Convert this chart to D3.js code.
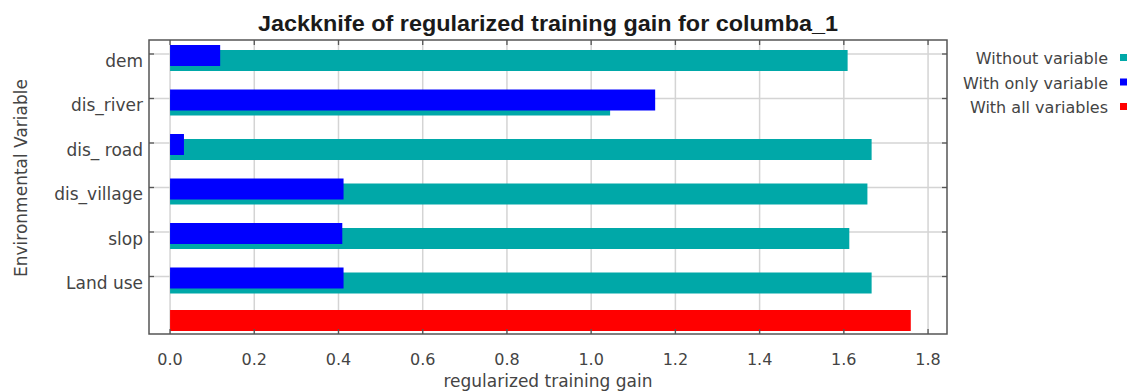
<!DOCTYPE html>
<html>
<head>
<meta charset="utf-8">
<script src="https://cdn.jsdelivr.net/npm/d3@7"></script>
<style>
  html, body { margin: 0; padding: 0; background: #fff; }
  svg { display: block; font-family: "DejaVu Sans", sans-serif; }
</style>
</head>
<body>
<svg id="chart" width="1131" height="392"></svg>
<script>
// Jackknife results per environmental variable
const variables = ["dem", "dis_river", "dis_ road", "dis_village", "slop", "Land use"];
const withoutVariable = [1.609, 1.045, 1.666, 1.656, 1.613, 1.666];
const withOnlyVariable = [0.119, 1.152, 0.033, 0.412, 0.409, 0.412];
const withAllVariables = 1.759;
const xTicks = [0.0, 0.2, 0.4, 0.6, 0.8, 1.0, 1.2, 1.4, 1.6, 1.8];
const legendLabels = ["Without variable", "With only variable", "With all variables"];
const colors = ["#00a8a8", "#0000ff", "#ff0000"];

const svg = d3.select("#chart");
const plot = { left: 149, right: 947, top: 40, bottom: 334 };

const x = d3.scaleLinear().domain([-0.05, 1.845]).range([plot.left, plot.right]);
const rows = variables.concat(["__all__"]);
const y = d3.scalePoint().domain(rows).range([54, 321]);

// gridlines
const grid = svg.append("g");
grid.selectAll("line.v").data(xTicks).join("line")
  .attr("x1", d => x(d)).attr("x2", d => x(d))
  .attr("y1", plot.top).attr("y2", plot.bottom)
  .attr("stroke", "#d4d4d4").attr("stroke-width", 1.5);
grid.selectAll("line.h").data(variables).join("line")
  .attr("x1", plot.left).attr("x2", plot.right)
  .attr("y1", d => y(d)).attr("y2", d => y(d))
  .attr("stroke", "#d4d4d4").attr("stroke-width", 1.5);

// bars
const barH = 21;
const bars = svg.append("g");
bars.selectAll("rect.without").data(variables).join("rect")
  .attr("x", x(0)).attr("y", d => y(d) - 4)
  .attr("width", (d, i) => x(withoutVariable[i]) - x(0))
  .attr("height", barH).attr("fill", colors[0]);
bars.selectAll("rect.only").data(variables).join("rect")
  .attr("x", x(0)).attr("y", d => y(d) - 9)
  .attr("width", (d, i) => x(withOnlyVariable[i]) - x(0))
  .attr("height", barH).attr("fill", colors[1]);
bars.append("rect")
  .attr("x", x(0)).attr("y", y("__all__") - 11)
  .attr("width", x(withAllVariables) - x(0))
  .attr("height", barH).attr("fill", colors[2]);

// frame
svg.append("rect")
  .attr("x", plot.left).attr("y", plot.top)
  .attr("width", plot.right - plot.left).attr("height", plot.bottom - plot.top)
  .attr("fill", "none").attr("stroke", "#555").attr("stroke-width", 1.5);

// inward ticks on all four sides
const tk = svg.append("g").attr("stroke", "#555").attr("stroke-width", 1.3);
xTicks.forEach(v => {
  tk.append("line").attr("x1", x(v)).attr("x2", x(v)).attr("y1", plot.top).attr("y2", plot.top + 5);
  tk.append("line").attr("x1", x(v)).attr("x2", x(v)).attr("y1", plot.bottom).attr("y2", plot.bottom - 5);
});
variables.forEach(v => {
  tk.append("line").attr("x1", plot.left).attr("x2", plot.left + 5).attr("y1", y(v)).attr("y2", y(v));
  tk.append("line").attr("x1", plot.right).attr("x2", plot.right - 5).attr("y1", y(v)).attr("y2", y(v));
});

// tick labels
svg.append("g").selectAll("text").data(xTicks).join("text")
  .attr("x", d => x(d)).attr("y", 365)
  .attr("text-anchor", "middle").attr("font-size", 16).attr("fill", "#444")
  .text(d3.format(".1f"));
svg.append("g").selectAll("text").data(variables).join("text")
  .attr("x", 143).attr("y", d => y(d) + 12.5)
  .attr("text-anchor", "end").attr("font-size", 17).attr("fill", "#444")
  .text(d => d);

// title and axis titles
svg.append("text").attr("x", 548).attr("y", 31)
  .attr("text-anchor", "middle").attr("font-size", 22).attr("font-weight", "bold")
  .attr("font-family", "'Liberation Sans', Arial, sans-serif")
  .attr("textLength", 580).attr("lengthAdjust", "spacingAndGlyphs")
  .attr("fill", "#1a1a1a").text("Jackknife of regularized training gain for columba_1");
svg.append("text").attr("x", 548).attr("y", 387)
  .attr("text-anchor", "middle").attr("font-size", 17).attr("fill", "#444")
  .text("regularized training gain");
svg.append("text").attr("transform", "translate(27,178) rotate(-90)")
  .attr("text-anchor", "middle").attr("font-size", 17).attr("fill", "#444")
  .text("Environmental Variable");

// legend
const lg = svg.append("g");
legendLabels.forEach((label, i) => {
  const cy = 58 + i * 24.5;
  lg.append("text").attr("x", 1108).attr("y", cy + 6)
    .attr("text-anchor", "end").attr("font-size", 16).attr("fill", "#444").text(label);
  lg.append("rect").attr("x", 1120).attr("y", cy - 4).attr("width", 7).attr("height", 7)
    .attr("fill", colors[i]);
});
</script>
</body>
</html>
